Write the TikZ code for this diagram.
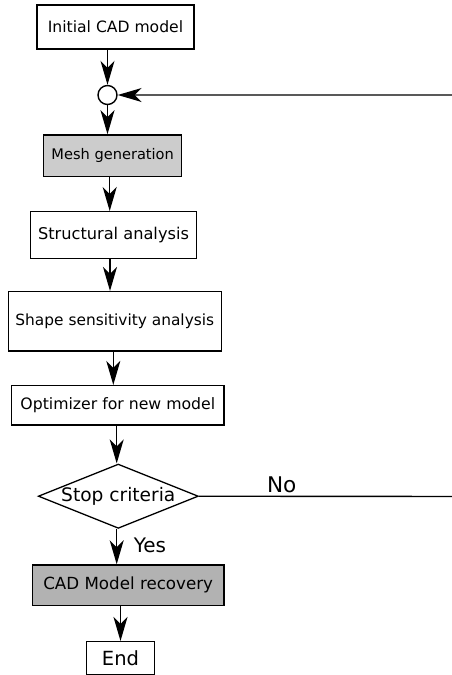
\documentclass[tikz,border=0pt]{standalone}
\usepackage{fontspec}
\setmainfont{DejaVu Sans}
\usetikzlibrary{arrows.meta,shapes.geometric}
\newcommand\fsz[1]{\fontsize{#1pt}{#1pt}\selectfont}
\tikzset{
  box/.style={draw, line width=1.4pt, inner sep=0pt, fill=white},
  decision/.style={draw, diamond, line width=1.3pt, inner sep=0pt, aspect=2.5},
  joint/.style={draw, circle, line width=1.4pt, inner sep=0pt, minimum size=19pt},
  flow/.style={line width=1.4pt},
  arr/.style={flow, -{Stealth[length=24pt, width=14pt, inset=7pt]}},
  lbl/.style={inner sep=0pt}
}
\begin{document}
\begin{tikzpicture}[x=1pt, y=-1pt]
  \useasboundingbox (0,0) rectangle (452,675);
  \clip (0,0) rectangle (452,675);

  % process steps
  \node[box, minimum width=157pt, minimum height=44pt] (init) at (115.5,27)
    {\fsz{15.6}Initial CAD model};
  \node[joint] (circ) at (107.5,95) {};
  \node[box, fill=black!20, minimum width=138pt, minimum height=41.7pt] (mesh) at (112.7,155.8)
    {\fsz{14.6}Mesh generation};
  \node[box, minimum width=166.4pt, minimum height=46.6pt] (struct) at (113.5,235)
    {\fsz{16.2}Structural analysis};
  \node[box, minimum width=213pt, minimum height=59.3pt] (shape) at (114.8,321.3)
    {\fsz{15.4}Shape sensitivity analysis};
  \node[box, minimum width=212.3pt, minimum height=39.3pt] (opt) at (117.8,405.3)
    {\fsz{15.7}Optimizer for new model};
  \node[decision, minimum width=160pt, minimum height=64.3pt] (stop) at (118.3,496.2)
    {\fsz{18.6}Stop criteria};
  \node[box, fill=black!30, minimum width=191.7pt, minimum height=40.7pt] (cad) at (128.2,585.3)
    {\fsz{16.7}CAD Model recovery};
  \node[box, minimum width=67.6pt, minimum height=32.6pt] (end) at (120.5,658)
    {\fsz{19.5}End};

  % branch labels
  \node[lbl] (no) at (281.7,484.3) {\fsz{21.6}No};
  \node[lbl] (yes) at (150,545) {\fsz{20}Yes};

  % main flow
  \draw[arr] (init.south -| circ) -- (circ.north);
  \draw[arr] (circ.south) -- (circ.south |- mesh.north);
  \draw[arr] ([xshift=-3pt]mesh.south) -- ([xshift=-3pt]mesh.south |- struct.north);
  \draw[arr] ([xshift=-3.5pt]struct.south) -- ([xshift=-3.5pt]struct.south |- shape.north);
  \draw[arr] ([xshift=-1.5pt]shape.south) -- ([xshift=-1.5pt]shape.south |- opt.north);
  \draw[arr] ([xshift=-1.1pt]opt.south) -- ([xshift=-1.1pt]opt.south |- stop.north);
  \draw[arr] ([xshift=-1.6pt]stop.south) -- ([xshift=-1.6pt]stop.south |- cad.north);
  \draw[arr] (end.north |- cad.south) -- (end.north);

  % feedback loop
  \coordinate (turnA) at (462,496.5);
  \coordinate (turnB) at (462,95);
  \draw[arr] (stop.east) -- (turnA) -- (turnB) -- (circ.east);
\end{tikzpicture}
\end{document}
